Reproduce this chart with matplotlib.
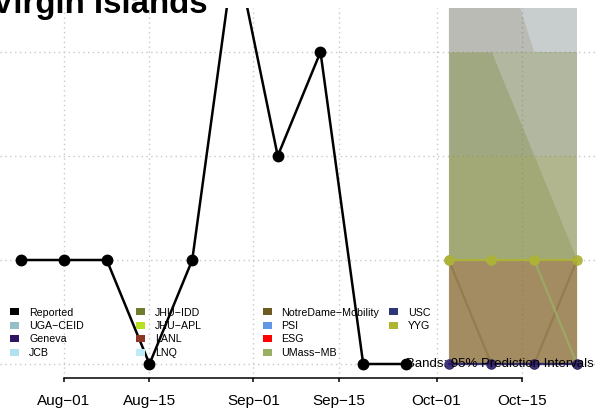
import numpy as np
import matplotlib
matplotlib.use("Agg")
import matplotlib.pyplot as plt
import matplotlib.dates as mdates
from matplotlib.patches import Rectangle

plt.rcParams['font.family'] = ['Liberation Sans', 'DejaVu Sans']

# ---------------- data ----------------
title = "Virgin Islands"
reported_dates = ["2020-07-25", "2020-08-01", "2020-08-08", "2020-08-15", "2020-08-22",
                  "2020-08-29", "2020-09-05", "2020-09-12", "2020-09-19", "2020-09-26"]
reported_values = [1, 1, 1, 0, 1, 4, 2, 3, 0, 0]

forecast_dates = ["2020-10-03", "2020-10-10", "2020-10-17", "2020-10-24"]

legend_names = ["Reported", "UGA-CEID", "Geneva", "JCB",
                "JHU-IDD", "JHU-APL", "LANL", "LNQ",
                "NotreDame-Mobility", "PSI", "ESG", "UMass-MB",
                "USC", "YYG"]
legend_colors = ["#000000", "#96BEC8", "#2D1464", "#AFE1F0",
                 "#6E7D2D", "#B9E123", "#8C3723", "#BEEBFA",
                 "#6E5A23", "#6496E6", "#FF0000", "#9BAF64",
                 "#2D3778", "#AFB432"]

# 95% prediction interval bands (lower, upper) per model
band_models = ["USC", "JHU-APL", "NotreDame-Mobility", "UMass-MB", "JHU-IDD",
               "YYG", "LANL", "ESG"]
band_lower = [[0, 0, 0, 0]] * 8
band_upper = [[6, 6, 6, 6], [6, 6, 6, 6], [6, 4.3, 3, 3], [3, 3, 3, 3],
              [3, 3, 2, 1], [2, 2, 2, 2], [1, 1, 1, 1], [1, 1, 1, 1]]
band_alpha = [0.25, 0.08, 0.15, 0.25, 0.25, 0.15, 0.17, 0.06]

# point forecasts (medians)
median_models = ["NotreDame-Mobility", "UMass-MB", "USC", "Geneva", "YYG"]
median_values = [[1, 0, 0, 1], [1, 1, 1, 0], [0, 0, 0, 0], [0, 0, 0, 0], [1, 1, 1, 1]]
median_alpha = [0.3, 0.8, 0.8, 0.55, 0.85]

tick_dates = ["2020-08-01", "2020-08-15", "2020-09-01", "2020-09-15", "2020-10-01", "2020-10-15"]
tick_labels = ["Aug-01", "Aug-15", "Sep-01", "Sep-15", "Oct-01", "Oct-15"]
grid_y = [0, 1, 2, 3]

band_note = "Bands: 95% Prediction Intervals"

# ---------------- figure ----------------
W, H = 598, 414
fig = plt.figure(figsize=(W / 100, H / 100), dpi=100)
ax = fig.add_axes([0, (H - 379) / H, 1, (379 - 9) / H])

color_of = dict(zip(legend_names, legend_colors))
to_num = lambda ds: mdates.date2num(np.array(ds, dtype="datetime64[D]"))
rd = to_num(reported_dates)
fd = to_num(forecast_dates)
td = to_num(tick_dates)

px_per_day = (522 - 64) / (td[-1] - td[0])
ax.set_xlim(td[0] - 64 / px_per_day, td[0] + (W - 64) / px_per_day)
ax.set_ylim((365 - 379) / 104, (365 - 9) / 104)

# grid
for g in grid_y:
    ax.axhline(g, color="#C8C8C8", lw=1.0, ls=(0, (1, 2.5)), zorder=0)
for t in td:
    ax.axvline(t, color="#C8C8C8", lw=1.0, ls=(0, (1, 2.5)), zorder=0)

# bands
for m, lo, up, a in zip(band_models, band_lower, band_upper, band_alpha):
    ax.fill_between(fd, lo, up, color=color_of[m], alpha=a, lw=0, zorder=1)

# medians
for m, v, a in zip(median_models, median_values, median_alpha):
    ax.plot(fd, v, color=color_of[m], alpha=a, lw=1.6, marker="o", ms=7.5,
            markeredgewidth=0, zorder=3)

# reported
ax.plot(rd, reported_values, color="black", lw=1.8, marker="o", ms=7.5, zorder=5)

# axes styling
for s in ["left", "top", "right"]:
    ax.spines[s].set_visible(False)
ax.spines["bottom"].set_bounds(td[0], td[-1])
ax.spines["bottom"].set_linewidth(1.1)
ax.set_xticks(td)
ax.set_xticklabels([l.replace("-", "\u2212") for l in tick_labels])
ax.tick_params(axis="x", length=3, width=1.1, pad=7.5, labelsize=11, direction="out")
ax.set_yticks(grid_y)
ax.tick_params(axis="y", length=0, labelleft=False)
ax.patch.set_alpha(0)

# note
ax.text(594 / W, 1 - 364 / H, band_note, transform=fig.transFigure, ha="right",
        va="center", fontsize=9.5, zorder=6)

# title
fig.text(-8 / W, 1 - 13 / H, title, fontsize=23.8, fontweight="bold", ha="left", va="baseline")

# legend (manual, R-style 4 columns)
for i, (name, col) in enumerate(zip(legend_names, legend_colors)):
    c, r = i // 4, i % 4
    cx = 14.5 + 126.3 * c
    cy = 312.5 + 13.5 * r
    fig.patches.append(Rectangle(((cx - 4.5) / W, 1 - (cy + 3.5) / H), 9 / W, 7 / H,
                                 transform=fig.transFigure, facecolor=col, edgecolor="none",
                                 zorder=4))
    fig.text((cx + 14.5) / W, 1 - cy / H, name.replace("-", "\u2212"), fontsize=7.7,
             ha="left", va="center", zorder=4)

fig.savefig("out.png", dpi=100)
